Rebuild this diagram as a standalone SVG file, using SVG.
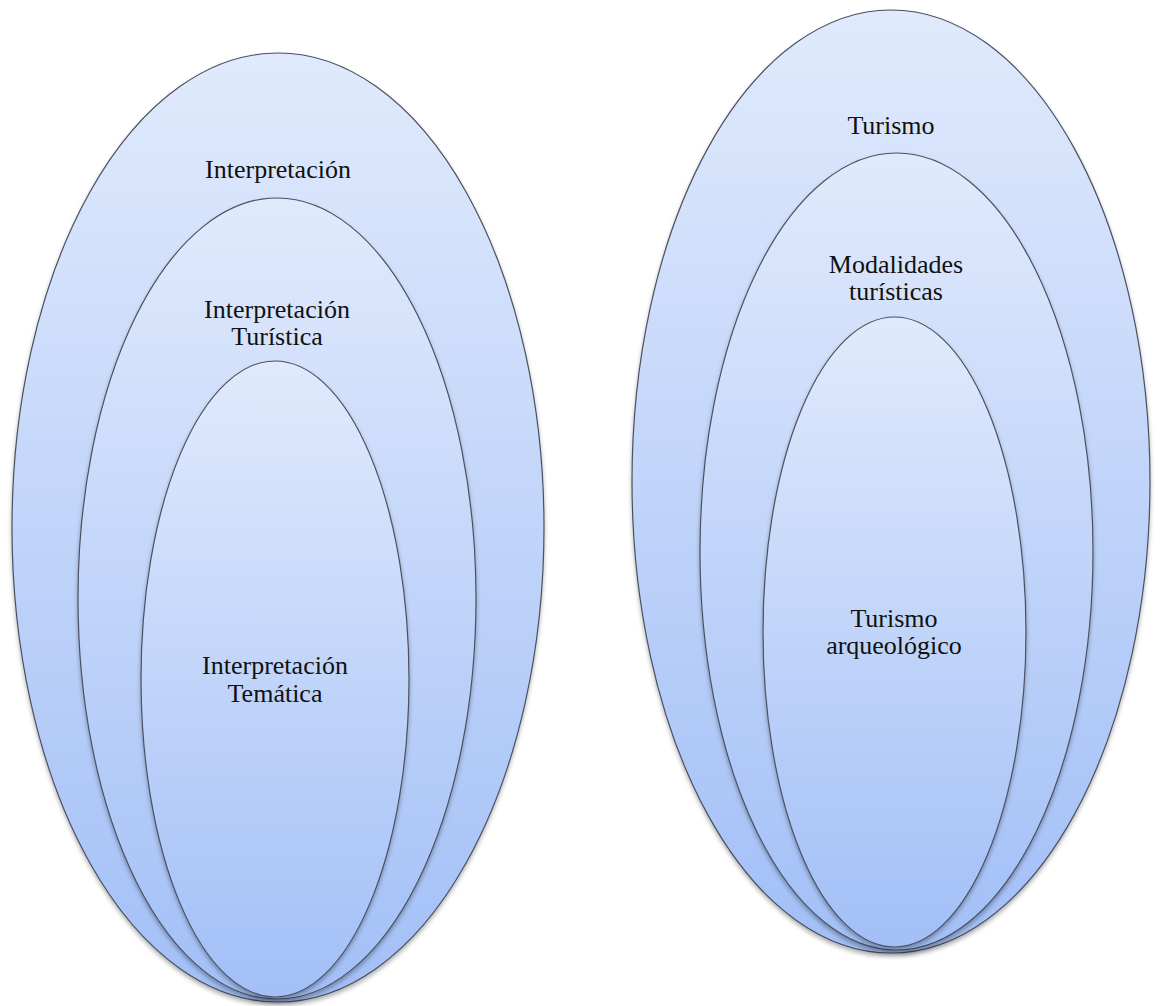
<svg xmlns="http://www.w3.org/2000/svg" width="1162" height="1006" viewBox="0 0 1162 1006">
<style>
.e{fill:url(#g);stroke:#4a5160;stroke-width:1.2;filter:url(#sh)}
text{font-family:'Liberation Serif','Times New Roman',serif;font-size:26px;fill:#111;text-anchor:middle}
</style>
<defs>
<linearGradient id="g" x1="0" y1="0" x2="0" y2="1">
<stop offset="0" stop-color="#e0eafc"/>
<stop offset="1" stop-color="#a2bff7"/>
</linearGradient>
<filter id="sh" x="-10%" y="-10%" width="120%" height="120%">
<feDropShadow dx="0" dy="3" stdDeviation="2" flood-color="#000" flood-opacity="0.3"/>
</filter>
</defs>
<rect width="1162" height="1006" fill="#fff"/>
<g id="interpretacion">
<ellipse class="e" cx="278" cy="527.5" rx="266" ry="474.5"/>
<text x="278" y="178">Interpretación</text>
</g>
<g id="interpretacion-turistica">
<ellipse class="e" cx="277" cy="598.5" rx="199" ry="400.5"/>
<text x="277" y="318">Interpretación</text>
<text x="277" y="345">Turística</text>
</g>
<g id="interpretacion-tematica">
<ellipse class="e" cx="275" cy="679" rx="134" ry="318"/>
<text x="275" y="674">Interpretación</text>
<text x="275" y="702">Temática</text>
</g>
<g id="turismo">
<ellipse class="e" cx="891" cy="481.5" rx="259" ry="471.5"/>
<text x="891" y="134">Turismo</text>
</g>
<g id="modalidades">
<ellipse class="e" cx="896.5" cy="551.5" rx="196.5" ry="398.5"/>
<text x="896" y="273">Modalidades</text>
<text x="896" y="300">turísticas</text>
</g>
<g id="turismo-arqueologico">
<ellipse class="e" cx="894.5" cy="632" rx="131.5" ry="315"/>
<text x="894" y="627">Turismo</text>
<text x="894" y="654">arqueológico</text>
</g>
<g id="connectors"/>
</svg>
